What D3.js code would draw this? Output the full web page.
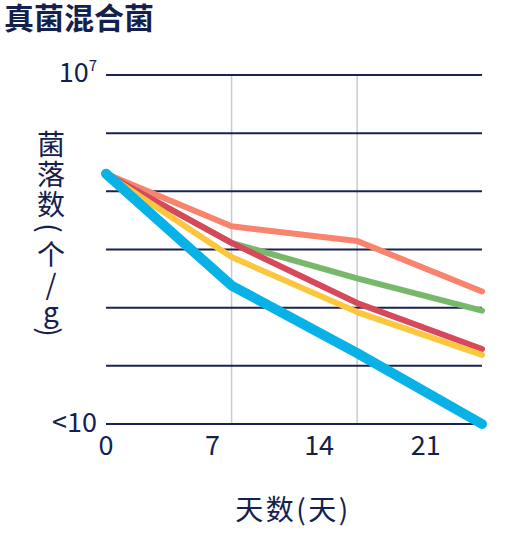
<!DOCTYPE html>
<html>
<head>
<meta charset="utf-8">
<script src="https://cdn.jsdelivr.net/npm/d3@7"></script>
<style>
body { margin: 0; background: #fff; }
text { font-family: "Noto Sans CJK SC", "Noto Sans", sans-serif; fill: #14214d; }
</style>
</head>
<body>
<script>
// chart data
var title = "真菌混合菌";
var xTitle = "天数(天)";
var yLabelChars = ["菌", "落", "数", "(", "个", "/", "g", ")"];
var days = [0, 8.25, 16.5, 24.7];       // sampling days
var xTicks = [0, 7, 14, 21];
var yGrid = [1e1, 1e2, 1e3, 1e4, 1e5, 1e6, 1e7];
var salmon = [2.0e5, 2.5e4, 1.4e4, 1.9e3];
var green = [2.0e5, 1.3e4, 3.2e3, 890];
var red = [2.0e5, 1.3e4, 1.2e3, 195];
var yellow = [2.0e5, 7.4e3, 840, 154];
var blue = [2.0e5, 2.4e3, 166, 10];

var w = 512, h = 540;

var svg = d3.select("body").append("svg")
    .attr("width", w)
    .attr("height", h);

var x = d3.scaleLinear().domain([0, 24.7]).range([106, 482]);
var y = d3.scaleLog().domain([10, 1e7]).range([424, 75]);

// title
svg.append("text")
    .attr("x", 4).attr("y", 29)
    .style("font-size", "30px").style("font-weight", 700)
    .text(title);

// vertical grid at the inner sampling days
svg.selectAll(".vgrid").data(days.slice(1, -1)).enter().append("line")
    .attr("class", "vgrid")
    .attr("x1", d => x(d)).attr("x2", d => x(d))
    .attr("y1", y(1e7)).attr("y2", y(10))
    .style("stroke", "#c6cad5").style("stroke-width", 1.5);

// horizontal grid
svg.selectAll(".hgrid").data(yGrid).enter().append("line")
    .attr("class", "hgrid")
    .attr("x1", x(0)).attr("x2", x(24.7))
    .attr("y1", d => y(d)).attr("y2", d => y(d))
    .style("stroke", "#1a2350").style("stroke-width", 2);

// y tick labels
svg.append("text")
    .attr("x", 97).attr("y", y(10) + 8)
    .attr("text-anchor", "end")
    .style("font-size", "27px")
    .text("<10");
var topLabel = svg.append("text")
    .attr("x", 97).attr("y", y(1e7) + 7)
    .attr("text-anchor", "end")
    .style("font-size", "27px");
topLabel.append("tspan").text("10");
topLabel.append("tspan").attr("dy", -11).style("font-size", "15px").text("7");

// x tick labels
svg.selectAll(".xtick").data(xTicks).enter().append("text")
    .attr("class", "xtick")
    .attr("x", d => x(d)).attr("y", 455)
    .attr("text-anchor", "middle")
    .style("font-size", "27px")
    .text(d => d);

// x title
svg.append("text")
    .attr("x", 293).attr("y", 520)
    .attr("text-anchor", "middle")
    .style("font-size", "28px")
    .style("letter-spacing", "2.5px")
    .text(xTitle);

// y label, stacked characters
var cy = 128;
yLabelChars.forEach(function(c) {
    var adv = (c == "(" || c == ")") ? 20 : (c == "g" ? 24 : 30);
    var mid = cy + adv / 2;
    var rot = (c == "(" || c == ")") ? 90 : 0;
    svg.append("text")
        .attr("transform", "translate(51," + mid + ") rotate(" + rot + ")")
        .attr("text-anchor", "middle")
        .attr("dominant-baseline", "central")
        .style("font-size", "28px")
        .text(c);
    cy += adv;
});

// series lines
var series = [
    {values: salmon, color: "#f9836d", width: 6},
    {values: green, color: "#78b86b", width: 6},
    {values: red, color: "#d8485b", width: 6},
    {values: yellow, color: "#fcc63f", width: 6},
    {values: blue, color: "#08b1e6", width: 10}
];

var line = d3.line()
    .x((d, i) => x(days[i]))
    .y(d => y(d));

svg.selectAll(".series").data(series).enter().append("path")
    .attr("class", "series")
    .attr("d", d => line(d.values))
    .style("fill", "none")
    .style("stroke", d => d.color)
    .style("stroke-width", d => d.width)
    .style("stroke-linecap", "round")
    .style("stroke-linejoin", "round");
</script>
</body>
</html>
